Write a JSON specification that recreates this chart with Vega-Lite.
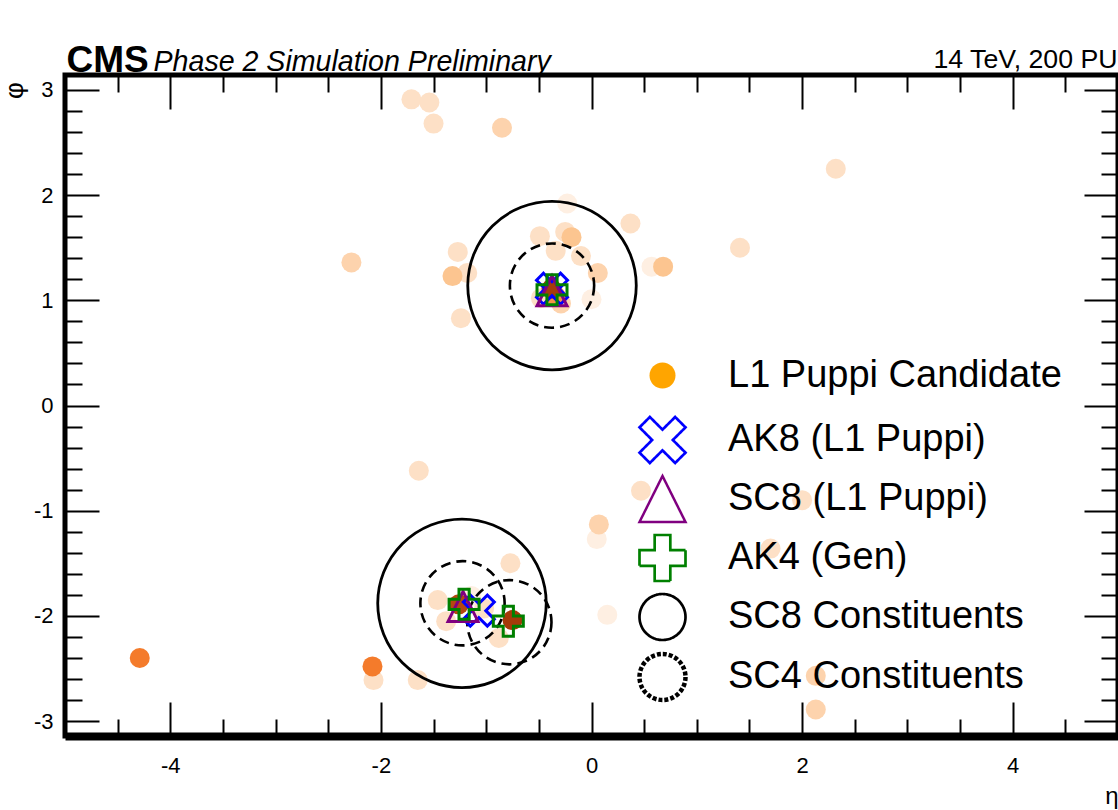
{
  "$schema": "https://vega.github.io/schema/vega-lite/v6.json",
  "width": 1053,
  "height": 661,
  "autosize": {"type": "none"},
  "padding": {"left": 65, "top": 75, "right": 0, "bottom": 74},
  "background": "white",
  "datasets": {
    "cands": [
      {"eta": -0.23, "phi": 1.92, "pt": 1}, {"eta": 0.57, "phi": 1.32, "pt": 1}, {"eta": 0.0, "phi": 1.01, "pt": 1},
      {"eta": 0.05, "phi": -1.27, "pt": 1}, {"eta": 0.15, "phi": -1.99, "pt": 1}, {"eta": -1.14, "phi": -1.81, "pt": 1},
      {"eta": -1.71, "phi": 2.91, "pt": 2}, {"eta": -1.54, "phi": 2.88, "pt": 2}, {"eta": -1.50, "phi": 2.68, "pt": 2},
      {"eta": 2.32, "phi": 2.25, "pt": 2}, {"eta": 0.37, "phi": 1.73, "pt": 2}, {"eta": 1.41, "phi": 1.50, "pt": 2},
      {"eta": -1.27, "phi": 1.46, "pt": 2}, {"eta": -1.18, "phi": 1.26, "pt": 2}, {"eta": -1.24, "phi": 0.83, "pt": 2},
      {"eta": -0.49, "phi": 1.61, "pt": 2}, {"eta": -0.25, "phi": 1.65, "pt": 2}, {"eta": -0.34, "phi": 1.47, "pt": 2},
      {"eta": -0.10, "phi": 1.42, "pt": 2}, {"eta": -0.48, "phi": 1.02, "pt": 2}, {"eta": -1.64, "phi": -0.62, "pt": 2},
      {"eta": 0.47, "phi": -0.81, "pt": 2}, {"eta": 2.00, "phi": -0.90, "pt": 2}, {"eta": 1.70, "phi": -1.36, "pt": 2},
      {"eta": -0.77, "phi": -1.50, "pt": 2}, {"eta": -1.46, "phi": -1.85, "pt": 2}, {"eta": -1.38, "phi": -2.05, "pt": 2},
      {"eta": -1.02, "phi": -1.93, "pt": 2}, {"eta": -0.88, "phi": -2.21, "pt": 2}, {"eta": -2.07, "phi": -2.61, "pt": 2},
      {"eta": -1.65, "phi": -2.61, "pt": 2},
      {"eta": -0.85, "phi": 2.64, "pt": 3}, {"eta": -2.28, "phi": 1.36, "pt": 3}, {"eta": 0.06, "phi": 1.26, "pt": 3},
      {"eta": -0.29, "phi": 0.97, "pt": 3}, {"eta": 0.07, "phi": -1.13, "pt": 3}, {"eta": 2.13, "phi": -2.57, "pt": 3},
      {"eta": 2.13, "phi": -2.89, "pt": 3},
      {"eta": -1.32, "phi": 1.23, "pt": 5}, {"eta": -0.19, "phi": 1.60, "pt": 5}, {"eta": 0.68, "phi": 1.32, "pt": 5},
      {"eta": -0.34, "phi": 1.04, "pt": 12}, {"eta": -2.08, "phi": -2.48, "pt": 15}, {"eta": -4.29, "phi": -2.40, "pt": 15},
      {"eta": -1.26, "phi": -1.89, "pt": 35}, {"eta": -0.75, "phi": -2.04, "pt": 40}, {"eta": -0.38, "phi": 1.11, "pt": 40}
    ],
    "jets": [
      {"kind": "SC8c", "eta": -0.375, "phi": 1.14},
      {"kind": "SC8c", "eta": -1.23, "phi": -1.88},
      {"kind": "SC4c", "eta": -0.375, "phi": 1.14},
      {"kind": "SC4c", "eta": -1.225, "phi": -1.88},
      {"kind": "SC4c", "eta": -0.78, "phi": -2.06},
      {"kind": "AK8", "eta": -0.375, "phi": 1.11},
      {"kind": "AK8", "eta": -1.07, "phi": -1.95},
      {"kind": "SC8", "eta": -0.375, "phi": 1.09},
      {"kind": "SC8", "eta": -1.22, "phi": -1.91},
      {"kind": "AK4", "eta": -0.375, "phi": 1.10},
      {"kind": "AK4", "eta": -1.21, "phi": -1.89},
      {"kind": "AK4", "eta": -0.79, "phi": -2.05}
    ],
    "legendrows": [
      {"type": "L1 Puppi Candidate"}, {"type": "AK8 (L1 Puppi)"}, {"type": "SC8 (L1 Puppi)"},
      {"type": "AK4 (Gen)"}, {"type": "SC8 Constituents"}, {"type": "SC4 Constituents"}
    ]
  },
  "config": {
    "view": {"stroke": "black", "strokeWidth": 5},
    "axis": {
      "domain": false, "grid": false, "tickColor": "black", "tickWidth": 2,
      "labelFont": "Liberation Sans", "labelFontSize": 22, "labelColor": "black",
      "titleFont": "Liberation Sans", "titleColor": "black", "titleFontWeight": "normal"
    },
    "legend": {
      "orient": "none", "legendX": 572, "legendY": 281.5,
      "labelFont": "Liberation Sans", "labelFontSize": 38, "labelColor": "black", "labelLimit": 0,
      "labelOffset": 40, "rowPadding": -6, "padding": 0, "symbolLimit": 0, "titlePadding": 0,
      "gridAlign": "all"
    }
  },
  "resolve": {"axis": {"x": "independent", "y": "independent"}},
  "layer": [
    {
      "data": {"name": "cands"},
      "mark": {"type": "point", "filled": true, "size": 400, "opacity": 1, "strokeWidth": 0},
      "encoding": {
        "x": {"field": "eta", "type": "quantitative",
          "scale": {"domain": [-5, 5], "nice": false, "zero": false},
          "axis": {"orient": "bottom", "values": [-4, -2, 0, 2, 4], "tickSize": -34, "labelPadding": 53,
            "labelExpr": "datum.value + ''", "domain": true, "domainColor": "black", "domainWidth": 8,
            "title": "η", "titleX": 1053, "titleY": 67, "titleAlign": "right", "titleBaseline": "alphabetic",
            "titleAngle": 0, "titleFontSize": 24}},
        "y": {"field": "phi", "type": "quantitative",
          "scale": {"domain": [-3.14159, 3.14159], "nice": false, "zero": false},
          "axis": {"orient": "left", "values": [-3, -2, -1, 0, 1, 2, 3], "tickSize": -34, "labelPadding": 46,
            "labelExpr": "datum.value + ''",
            "title": "φ", "titleX": -51, "titleY": 15, "titleAlign": "center", "titleBaseline": "middle",
            "titleAngle": 270, "titleFontSize": 26}},
        "color": {"field": "pt", "type": "quantitative", "legend": null,
          "scale": {"domain": [1, 2, 3, 5, 15, 40],
            "range": ["#feefe2", "#fde0c6", "#fdd3ad", "#fcc590", "#f47b2b", "#a63a0a"]}}
      }
    },
    {
      "data": {"name": "jets"},
      "transform": [{"filter": "datum.kind == 'SC8c'"}],
      "mark": {"type": "point", "shape": "circle", "filled": false, "size": 28392, "stroke": "black", "strokeWidth": 2.8, "opacity": 1},
      "encoding": {
        "x": {"field": "eta", "type": "quantitative",
          "scale": {"domain": [-5, 5], "nice": false, "zero": false},
          "axis": {"orient": "bottom", "values": [-4.5, -3.5, -3, -2.5, -1.5, -1, -0.5, 0.5, 1, 1.5, 2.5, 3, 3.5, 4.5],
            "tickSize": -17, "labels": false, "title": null}},
        "y": {"field": "phi", "type": "quantitative",
          "scale": {"domain": [-3.14159, 3.14159], "nice": false, "zero": false},
          "axis": {"orient": "left", "values": [-2.8, -2.6, -2.4, -2.2, -1.8, -1.6, -1.4, -1.2, -0.8, -0.6, -0.4, -0.2, 0.2, 0.4, 0.6, 0.8, 1.2, 1.4, 1.6, 1.8, 2.2, 2.4, 2.6, 2.8],
            "tickSize": -17, "labels": false, "title": null}}
      }
    },
    {
      "data": {"name": "jets"},
      "transform": [{"filter": "datum.kind == 'SC4c'"}],
      "mark": {"type": "point", "shape": "circle", "filled": false, "size": 7098, "stroke": "black", "strokeWidth": 2.6, "strokeDash": [10, 6], "opacity": 1},
      "encoding": {
        "x": {"field": "eta", "type": "quantitative",
          "scale": {"domain": [-5, 5], "nice": false, "zero": false},
          "axis": {"orient": "top", "values": [-4, -2, 0, 2, 4], "tickSize": -34, "labels": false,
            "title": "Phase 2 Simulation Preliminary", "titleX": 88, "titleY": -5, "titleAlign": "left",
            "titleBaseline": "alphabetic", "titleAngle": 0, "titleFontSize": 28.6, "titleFontStyle": "italic"}},
        "y": {"field": "phi", "type": "quantitative",
          "scale": {"domain": [-3.14159, 3.14159], "nice": false, "zero": false},
          "axis": {"orient": "right", "values": [-3, -2, -1, 0, 1, 2, 3], "tickSize": -34, "labels": false,
            "title": "CMS", "titleX": -1052, "titleY": -4, "titleAlign": "left", "titleBaseline": "alphabetic",
            "titleAngle": 0, "titleFontSize": 37, "titleFontWeight": "bold"}}
      }
    },
    {
      "data": {"name": "jets"},
      "transform": [{"filter": "datum.kind == 'AK8'"}],
      "mark": {"type": "point", "shape": "M -0.55 -1 L 0 -0.45 L 0.55 -1 L 1 -0.55 L 0.45 0 L 1 0.55 L 0.55 1 L 0 0.45 L -0.55 1 L -1 0.55 L -0.45 0 L -1 -0.55 Z",
        "filled": false, "size": 961, "stroke": "#0000ff", "strokeWidth": 3, "opacity": 1},
      "encoding": {
        "x": {"field": "eta", "type": "quantitative",
          "scale": {"domain": [-5, 5], "nice": false, "zero": false},
          "axis": {"orient": "top", "values": [-4.5, -3.5, -3, -2.5, -1.5, -1, -0.5, 0.5, 1, 1.5, 2.5, 3, 3.5, 4.5],
            "tickSize": -17, "labels": false,
            "title": "14 TeV, 200 PU", "titleX": 1052, "titleY": -8, "titleAlign": "right",
            "titleBaseline": "alphabetic", "titleAngle": 0, "titleFontSize": 26.7}},
        "y": {"field": "phi", "type": "quantitative",
          "scale": {"domain": [-3.14159, 3.14159], "nice": false, "zero": false},
          "axis": {"orient": "right", "values": [-2.8, -2.6, -2.4, -2.2, -1.8, -1.6, -1.4, -1.2, -0.8, -0.6, -0.4, -0.2, 0.2, 0.4, 0.6, 0.8, 1.2, 1.4, 1.6, 1.8, 2.2, 2.4, 2.6, 2.8],
            "tickSize": -17, "labels": false, "title": null}}
      }
    },
    {
      "data": {"name": "jets"},
      "transform": [{"filter": "datum.kind == 'SC8'"}],
      "mark": {"type": "point", "shape": "M 0 -1 L 1 1 L -1 1 Z", "filled": false, "size": 900, "stroke": "#800080", "strokeWidth": 3, "opacity": 1},
      "encoding": {
        "x": {"field": "eta", "type": "quantitative", "scale": {"domain": [-5, 5], "nice": false, "zero": false}, "axis": null},
        "y": {"field": "phi", "type": "quantitative", "scale": {"domain": [-3.14159, 3.14159], "nice": false, "zero": false}, "axis": null}
      }
    },
    {
      "data": {"name": "jets"},
      "transform": [{"filter": "datum.kind == 'AK4'"}],
      "mark": {"type": "point", "shape": "M -0.34 -1 L 0.34 -1 L 0.34 -0.34 L 1 -0.34 L 1 0.34 L 0.34 0.34 L 0.34 1 L -0.34 1 L -0.34 0.34 L -1 0.34 L -1 -0.34 L -0.34 -0.34 Z",
        "filled": false, "size": 900, "stroke": "#008000", "strokeWidth": 3, "opacity": 1},
      "encoding": {
        "x": {"field": "eta", "type": "quantitative", "scale": {"domain": [-5, 5], "nice": false, "zero": false}, "axis": null},
        "y": {"field": "phi", "type": "quantitative", "scale": {"domain": [-3.14159, 3.14159], "nice": false, "zero": false}, "axis": null}
      }
    },
    {
      "data": {"name": "legendrows"},
      "transform": [{"filter": "false"}],
      "mark": {"type": "point", "opacity": 1},
      "encoding": {
        "shape": {"field": "type", "type": "nominal", "legend": {"title": null},
          "scale": {"domain": ["L1 Puppi Candidate", "AK8 (L1 Puppi)", "SC8 (L1 Puppi)", "AK4 (Gen)", "SC8 Constituents", "SC4 Constituents"],
            "range": ["circle",
              "M -0.55 -1 L 0 -0.45 L 0.55 -1 L 1 -0.55 L 0.45 0 L 1 0.55 L 0.55 1 L 0 0.45 L -0.55 1 L -1 0.55 L -0.45 0 L -1 -0.55 Z",
              "M 0 -1 L 1 1 L -1 1 Z",
              "M -0.34 -1 L 0.34 -1 L 0.34 -0.34 L 1 -0.34 L 1 0.34 L 0.34 0.34 L 0.34 1 L -0.34 1 L -0.34 0.34 L -1 0.34 L -1 -0.34 L -0.34 -0.34 Z",
              "circle", "circle"]}},
        "fill": {"field": "type", "type": "nominal", "legend": {"title": null},
          "scale": {"domain": ["L1 Puppi Candidate", "AK8 (L1 Puppi)", "SC8 (L1 Puppi)", "AK4 (Gen)", "SC8 Constituents", "SC4 Constituents"],
            "range": ["#ffa500", "transparent", "transparent", "transparent", "transparent", "transparent"]}},
        "stroke": {"field": "type", "type": "nominal", "legend": {"title": null},
          "scale": {"domain": ["L1 Puppi Candidate", "AK8 (L1 Puppi)", "SC8 (L1 Puppi)", "AK4 (Gen)", "SC8 Constituents", "SC4 Constituents"],
            "range": ["transparent", "#0000ff", "#800080", "#008000", "#000000", "#000000"]}},
        "strokeDash": {"field": "type", "type": "nominal", "legend": {"title": null},
          "scale": {"domain": ["L1 Puppi Candidate", "AK8 (L1 Puppi)", "SC8 (L1 Puppi)", "AK4 (Gen)", "SC8 Constituents", "SC4 Constituents"],
            "range": [[1, 0], [1, 0], [1, 0], [1, 0], [1, 0], [4, 2]]}},
        "strokeWidth": {"field": "type", "type": "nominal", "legend": {"title": null},
          "scale": {"type": "ordinal", "domain": ["L1 Puppi Candidate", "AK8 (L1 Puppi)", "SC8 (L1 Puppi)", "AK4 (Gen)", "SC8 Constituents", "SC4 Constituents"],
            "range": [11.5, 2.7, 2.5, 2.7, 2.7, 4.5]}},
        "size": {"field": "type", "type": "nominal", "legend": {"title": null},
          "scale": {"type": "ordinal", "domain": ["L1 Puppi Candidate", "AK8 (L1 Puppi)", "SC8 (L1 Puppi)", "AK4 (Gen)", "SC8 Constituents", "SC4 Constituents"],
            "range": [676, 2116, 2116, 2116, 2116, 2116]}}
      }
    }
  ]
}
